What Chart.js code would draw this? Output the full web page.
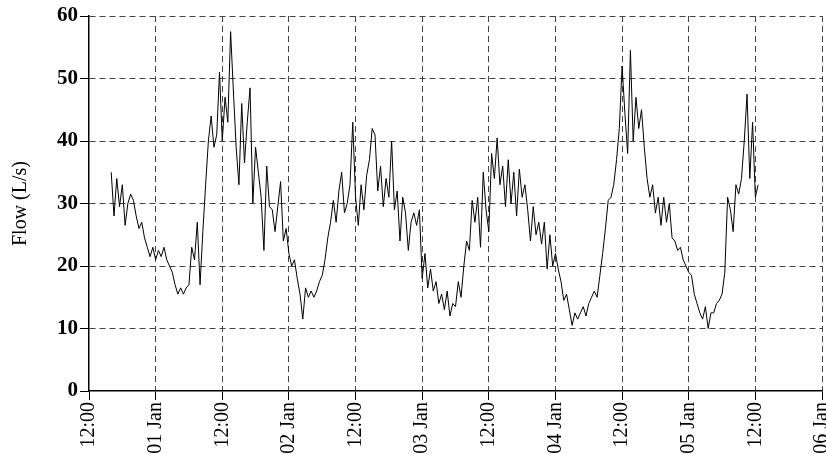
<!DOCTYPE html>
<html>
<head>
<meta charset="utf-8">
<script src="https://cdn.jsdelivr.net/npm/chart.js@4"></script>
<style>
  body { margin: 0; background: #fff; }
</style>
</head>
<body>
<canvas id="flowChart" width="826" height="454"></canvas>
<script>
// hours relative to 01 Jan 00:00, one reading every half hour
var startHour = -8;
var stepHours = 0.5;

var flowValues = [
    35, 28, 34, 29.5, 33, 26.5, 30, 31.5, 30.5, 28, 26, 27, 24.5, 23, 21.5, 23,
    21, 22.5, 21.5, 23, 21, 20, 19, 17, 15.5, 16.5, 15.5, 16.5, 17, 23, 21, 27, 17, 25.5,
    33, 40, 44, 39, 41, 51, 40, 47, 43, 57.5, 48, 39, 33, 46, 36.5, 43, 48.5, 30,
    39, 35, 31, 22.5, 36, 29.5, 29, 25.5, 29.5, 33.5, 24, 26, 22, 20, 21, 18, 15.5, 11.5,
    16.5, 15, 16, 15, 16, 17.5, 18.5, 21, 24.5, 27, 30.5, 27, 32, 35, 28.5, 30, 33, 43,
    31, 26.5, 33, 29, 34.5, 37, 42, 41, 32, 36, 29.5, 34, 31, 40, 29, 32, 24, 31,
    28.5, 22.5, 27, 28.5, 26.5, 29, 18, 22, 16.5, 19.5, 16, 17.5, 14, 15.5, 13, 16,
    12, 14, 13.5, 17.5, 15, 20, 24, 22.5, 30.5, 27, 31, 23, 35, 29, 25.5, 38, 34, 40.5,
    33, 36, 29.5, 37, 30, 35, 28, 35.5, 31, 33, 29, 24, 29.5, 25, 27, 23.5, 27, 19.5,
    25, 20, 22, 19.5, 17.5, 14.5, 15.5, 13, 10.5, 12.5, 11.5, 12.5, 13.5, 12, 14, 15,
    16, 15, 18.5, 22, 26, 30.5, 31, 33, 37, 42, 52, 44.5, 38, 54.5, 40, 47, 42, 45,
    39, 34, 31, 33, 28.5, 31, 26.5, 31, 27, 30, 24.5, 24, 22.5, 23, 21, 20, 19, 18.5,
    15.5, 14, 12.5, 11.5, 13.5, 10, 12.5, 12.5, 14, 14.5, 15.5, 19, 31, 29, 25.5, 33,
    31.5, 34, 40, 47.5, 34, 43, 31, 33
];

var xTickLabels = ['12:00', '01 Jan', '12:00', '02 Jan', '12:00', '03 Jan', '12:00',
    '04 Jan', '12:00', '05 Jan', '12:00', '06 Jan'];
var yTicks = [0, 10, 20, 30, 40, 50, 60];

var points = flowValues.map(function (v, i) {
    return { x: startHour + i * stepHours, y: v };
});

var serif = '"Liberation Serif", "Times New Roman", serif';
Chart.defaults.color = '#000';
Chart.defaults.font.family = serif;

var gridStyle = {
    // no dashed line on top of the solid axis lines
    color: function (ctx) { return ctx.index === 0 ? 'rgba(0,0,0,0)' : '#444'; },
    lineWidth: 1,
    tickLength: 9,
    tickColor: '#000',
    tickBorderDash: []
};
// in v4 the dash of the grid lines lives under border
var borderStyle = { display: true, color: '#000', width: 1.5, dash: [6, 4] };

new Chart(document.getElementById('flowChart').getContext('2d'), {
    type: 'line',
    data: {
        datasets: [{
            data: points,
            borderColor: '#000',
            borderWidth: 1,
            pointRadius: 0,
            tension: 0,
            fill: false
        }]
    },
    options: {
        responsive: false,
        animation: false,
        devicePixelRatio: 1,
        layout: { padding: { left: 0, right: 4, top: 16, bottom: 0 } },
        plugins: { legend: { display: false }, tooltip: { enabled: false } },
        scales: {
            x: {
                type: 'linear',
                min: -12,
                max: 120,
                grid: gridStyle,
                border: borderStyle,
                ticks: {
                    stepSize: 12,
                    autoSkip: false,
                    minRotation: 90,
                    maxRotation: 90,
                    padding: 2,
                    font: { size: 20 },
                    callback: function (value, index) { return xTickLabels[index]; }
                },
                afterFit: function (scale) {
                    scale.height = 63;
                    scale.paddingLeft = 0;
                    scale.paddingRight = 0;
                }
            },
            y: {
                min: 0,
                max: 60,
                grid: gridStyle,
                border: borderStyle,
                afterBuildTicks: function (scale) {
                    scale.ticks = yTicks.map(function (v) { return { value: v }; });
                },
                ticks: {
                    padding: 2,
                    font: { size: 21, weight: 'bold' }
                },
                title: {
                    display: true,
                    text: 'Flow (L/s)',
                    font: { size: 20 },
                    padding: { top: 9, bottom: 0 }
                },
                afterFit: function (scale) {
                    scale.width = 89;
                }
            }
        }
    }
});
</script>
</body>
</html>
